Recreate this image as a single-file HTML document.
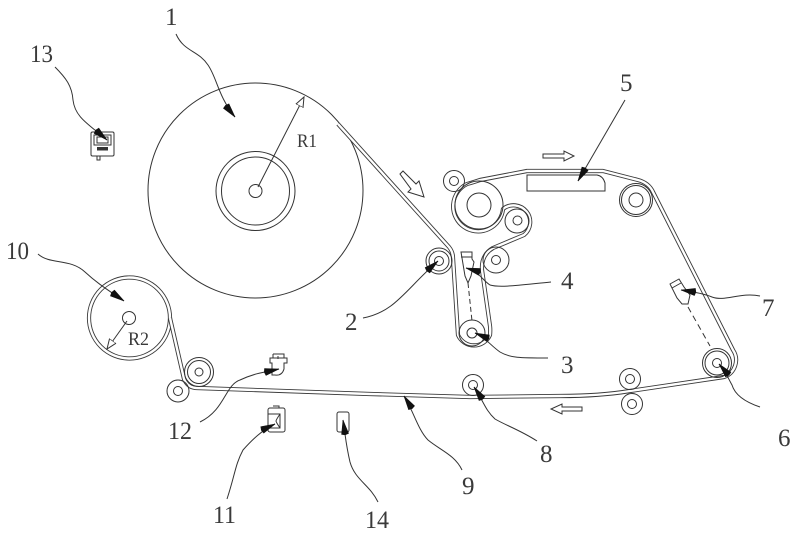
<!DOCTYPE html>
<html><head><meta charset="utf-8"><style>
html,body{margin:0;padding:0;background:#fff;width:800px;height:535px;overflow:hidden}
svg{display:block}
.l{fill:none;stroke:#333;stroke-width:1}
.w1{fill:none;stroke:#3a3a3a;stroke-width:4.2;stroke-linejoin:round}
.w2{fill:none;stroke:#fff;stroke-width:2.4;stroke-linejoin:round}
.ld{fill:none;stroke:#333;stroke-width:1}
text{font-family:"Liberation Serif",serif;fill:#3a3a3a}
.n{font-size:25px}
.r{font-size:18.500px}
</style></head><body>
<svg width="800" height="535" viewBox="0 0 800 535" xmlns="http://www.w3.org/2000/svg">
<defs>
<marker id="a" markerUnits="userSpaceOnUse" markerWidth="20" markerHeight="10" refX="18" refY="5" orient="auto"><path d="M3 5L4 1.500L18 5L4 8.500Z" fill="#111" stroke="#111" stroke-width=".6"/></marker>
<marker id="h" markerUnits="userSpaceOnUse" markerWidth="12" markerHeight="10" refX="10" refY="4.500" orient="auto"><path d="M0 0.500L10 4.500L0 8.500Z" fill="#fff" stroke="#333" stroke-width="1"/></marker>
<path id="web" d="M338 124L449 247Q453 252 453 258L458 335A17.500 17.500 0 0 0 490 335Q490.500 330 490 326L482 270Q481 255 493 248L524 235A16.500 16.500 0 0 0 503 209A25 25 0 1 1 467 184Q471 183 480 180L527 171L603 171L638 180Q649 183 653 192L733 350A18 18 0 0 1 724 377L630 391Q600 396 560 396L470 397L370 394L197 388Q188 388 184 379L170 318"/>
</defs>

<circle cx="255.500" cy="190.500" r="107.500" class="l"/>
<circle cx="255.500" cy="191" r="39.500" class="l"/>
<circle cx="255.500" cy="191" r="34" class="l"/>
<circle cx="255.500" cy="191" r="6.500" class="l"/>
<path d="M258 187L304 97" class="l" marker-end="url(#h)"/>

<circle cx="129.500" cy="318" r="40.500" class="w1"/>
<circle cx="129.500" cy="318" r="40.500" class="w2"/>
<use href="#web" class="w1"/>
<use href="#web" class="w2"/>

<circle cx="454" cy="181" r="10.500" class="l"/>
<circle cx="454" cy="181" r="4.500" class="l"/>
<circle cx="479" cy="205" r="24" class="l"/>
<circle cx="479" cy="205" r="12" class="l"/>
<circle cx="517" cy="221" r="12" class="l"/>
<circle cx="517.500" cy="220.500" r="4.500" class="l"/>
<circle cx="496" cy="260" r="13" class="l"/>
<circle cx="496" cy="260" r="4.500" class="l"/>
<circle cx="439" cy="261" r="13" class="l"/>
<circle cx="439" cy="261" r="10" class="l"/>
<circle cx="439" cy="261" r="4.500" class="l"/>
<circle cx="472" cy="333" r="13" class="l"/>
<circle cx="472" cy="333" r="5" class="l"/>
<circle cx="636" cy="200" r="16.500" class="l"/>
<circle cx="636" cy="200" r="14.500" class="l"/>
<circle cx="636" cy="200" r="7" class="l"/>
<circle cx="717" cy="363" r="14.500" class="l"/>
<circle cx="717" cy="363" r="12" class="l"/>
<circle cx="717" cy="363" r="4.500" class="l"/>
<circle cx="630" cy="379" r="10.500" class="l"/>
<circle cx="630" cy="379" r="4.500" class="l"/>
<circle cx="632" cy="404" r="10.500" class="l"/>
<circle cx="632" cy="404" r="4.500" class="l"/>
<circle cx="473" cy="385" r="10.500" class="l"/>
<circle cx="473" cy="385" r="4.500" class="l"/>
<circle cx="199" cy="372" r="14.500" class="l"/>
<circle cx="199" cy="372" r="11.500" class="l"/>
<circle cx="199" cy="372" r="4" class="l"/>
<circle cx="178" cy="391" r="11" class="l"/>
<circle cx="178" cy="391" r="4.500" class="l"/>

<circle cx="129" cy="318" r="6.500" class="l"/>
<path d="M127 321L107 349" class="l" marker-end="url(#h)"/>

<path d="M527 175V191H605V183Q603 176 597 175Z" class="l"/>

<!-- flow arrows -->
<path d="M400 174L403 171L416 184L419 181L424 197L408 192L411 189Z" class="l" stroke-width=".9"/>
<path d="M543 154H564V151L574 156L564 161V158H543Z" class="l"/>
<path d="M582 407H562V404L551 409L562 414V411H582Z" class="l"/>

<!-- sensor 4 -->
<path d="M461 252H472V259L474 262L471 276L468 283L465 276L463 264Z" class="l"/>
<path d="M461 257H472" class="l"/>
<path d="M468 283L472 321" class="l" stroke-dasharray="5 3"/>
<!-- sensor 7 -->
<path d="M670 284L679 279L684 287L690 295L688 304L682 304L677 298Z" class="l" stroke-width="1.300"/>
<path d="M672 288L681 283" class="l"/>
<path d="M688 307L710 346" class="l" stroke-dasharray="6 4"/>
<!-- sensor 12 -->
<path d="M270 358H287V363H284V369Q282 376 275 375H272V363H270Z" class="l"/>
<path d="M273 354H284V358M273 354V358M278 356V359" class="l"/>
<!-- sensor 11 -->
<rect x="268" y="408" width="17" height="24" rx="2" class="l" stroke-width="1.400"/>
<path d="M268 414H280V428H268M280 414Q276 420 276 421T280 428M273 406H279V408" class="l"/>
<!-- sensor 14 -->
<rect x="337" y="412" width="12" height="20" rx="2" class="l" stroke-width="1.400"/>
<!-- sensor 13 -->
<rect x="91" y="132" width="23" height="24" rx="1.500" class="l" stroke-width="1.200"/>
<rect x="94" y="135" width="17" height="10" class="l"/>
<rect x="97" y="137" width="11" height="6" class="l"/>
<rect x="97" y="147" width="11" height="3.500" fill="#333"/>
<path d="M97 156V160H100V156" class="l"/>

<!-- leaders -->
<path d="M176 34C184 52 198 50 208 65C217 78 218 96 235 117" class="ld" marker-end="url(#a)"/>
<path d="M55 67C66 78 72 86 73 100C75 118 90 125 107 140" class="ld" marker-end="url(#a)"/>
<path d="M38 254C50 265 70 258 85 272C98 284 108 290 124 301" class="ld" marker-end="url(#a)"/>
<path d="M625 100L578 181" class="ld" marker-end="url(#a)"/>
<path d="M363 318C395 312 405 290 438 261" class="ld" marker-end="url(#a)"/>
<path d="M551 282C520 285 500 288 490 285C482 280 480 272 466 268" class="ld" marker-end="url(#a)"/>
<path d="M548 358C520 358 510 358 500 352C490 345 485 337 475 333" class="ld" marker-end="url(#a)"/>
<path d="M760 296C740 292 725 302 712 297C705 294 695 292 681 290" class="ld" marker-end="url(#a)"/>
<path d="M760 407C745 402 735 395 732 385C728 378 726 372 719 364" class="ld" marker-end="url(#a)"/>
<path d="M537 441C520 430 505 425 495 419C485 410 483 400 474 387" class="ld" marker-end="url(#a)"/>
<path d="M462 470C455 455 440 450 428 440C418 430 413 410 404 396" class="ld" marker-end="url(#a)"/>
<path d="M200 422C225 410 225 385 240 380C255 373 265 372 279 369" class="ld" marker-end="url(#a)"/>
<path d="M227 499C235 475 235 465 243 450C252 440 262 430 275 424" class="ld" marker-end="url(#a)"/>
<path d="M378 502C370 485 355 480 350 462C346 445 346 440 343 420" class="ld" marker-end="url(#a)"/>

<!-- labels -->
<text class="n" x="165" y="25">1</text>
<text class="n" x="30" y="62" textLength="23" lengthAdjust="spacingAndGlyphs">13</text>
<text class="n" x="620" y="91">5</text>
<text class="r" x="297" y="147" textLength="20" lengthAdjust="spacingAndGlyphs">R1</text>
<text class="n" x="6" y="259" textLength="23" lengthAdjust="spacingAndGlyphs">10</text>
<text class="r" x="128" y="345" textLength="21" lengthAdjust="spacingAndGlyphs">R2</text>
<text class="n" x="345" y="330">2</text>
<text class="n" x="561" y="289">4</text>
<text class="n" x="762" y="316">7</text>
<text class="n" x="561" y="373">3</text>
<text class="n" x="778" y="446">6</text>
<text class="n" x="540" y="462">8</text>
<text class="n" x="462" y="494">9</text>
<text class="n" x="168" y="439" textLength="24" lengthAdjust="spacingAndGlyphs">12</text>
<text class="n" x="213" y="523" textLength="23" lengthAdjust="spacingAndGlyphs">11</text>
<text class="n" x="365" y="528" textLength="24" lengthAdjust="spacingAndGlyphs">14</text>
</svg>
</body></html>
